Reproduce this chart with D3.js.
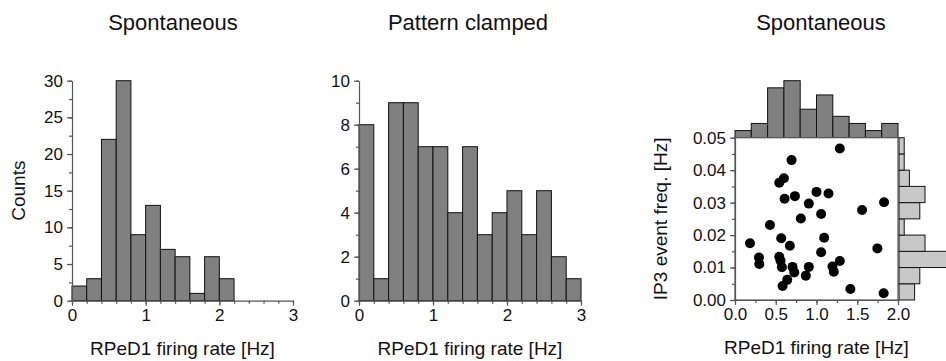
<!DOCTYPE html>
<html>
<head>
<meta charset="utf-8">
<script src="https://cdn.jsdelivr.net/npm/d3@7"></script>
<style>
  body { margin: 0; background: #fff; }
  svg { display: block; font-family: Arial, "Liberation Sans", sans-serif; }
  .axis path, .axis line { stroke: #555; stroke-width: 1.2; }
  .axis text { font-size: 17px; fill: #111; }
</style>
</head>
<body>
<svg id="chart" width="946" height="361"></svg>
<script>
"use strict";

let bin_edges_3hz = [0, 0.2, 0.4, 0.6, 0.8, 1.0, 1.2, 1.4, 1.6, 1.8, 2.0, 2.2, 2.4, 2.6, 2.8, 3.0];
let spont_counts = [2, 3, 22, 30, 9, 13, 7, 6, 1, 6, 3, 0, 0, 0, 0];
let clamped_counts = [8, 1, 9, 9, 7, 7, 4, 7, 3, 4, 5, 3, 5, 2, 1];

let x_ticks_3 = [0, 1, 2, 3];
let spont_y_ticks = [0, 5, 10, 15, 20, 25, 30];
let clamped_y_ticks = [0, 2, 4, 6, 8, 10];

// scatter: RPeD1 firing rate [Hz] vs IP3 event freq [Hz]
let rate_hz = [1.286, 0.694, 0.543, 0.600, 0.608, 0.735, 1.000, 1.147, 0.906, 1.829, 1.559, 1.057,
    0.808, 0.429, 0.567, 1.094, 0.184, 0.673, 1.747, 0.294, 0.298, 0.543, 0.559, 0.576,
    1.057, 1.286, 1.196, 1.212, 0.706, 0.727, 0.906, 0.869, 0.641, 0.584, 1.416, 1.824];
let ip3_hz = [0.0467, 0.0431, 0.0361, 0.0375, 0.0312, 0.0320, 0.0333, 0.0328, 0.0297, 0.0301, 0.0277, 0.0265,
    0.0251, 0.0231, 0.0190, 0.0192, 0.0175, 0.0167, 0.0159, 0.0131, 0.0111, 0.0133, 0.0121, 0.0101,
    0.0147, 0.0120, 0.0103, 0.0087, 0.0102, 0.0085, 0.0102, 0.0075, 0.0062, 0.0043, 0.0034, 0.0021];

// marginal histograms of the scatter
let rate_edges = [0, 0.2, 0.4, 0.6, 0.8, 1.0, 1.2, 1.4, 1.6, 1.8, 2.0];
let rate_counts = [1, 2, 7, 8, 4, 6, 3, 2, 1, 2];
let ip3_edges = [0, 0.005, 0.01, 0.015, 0.02, 0.025, 0.03, 0.035, 0.04, 0.045, 0.05];
let ip3_counts = [3, 4, 10, 5, 1, 4, 5, 2, 1, 1];

let scatter_x_ticks = [0, 0.5, 1.0, 1.5, 2.0];
let scatter_y_ticks = [0, 0.01, 0.02, 0.03, 0.04, 0.05];

let svg = d3.select("#chart");

function add_text(x, y, size, txt, rotate) {
    let t = svg.append("text").attr("text-anchor", "middle").attr("font-size", size).attr("fill", "#111").text(txt);
    if (rotate) t.attr("transform", "translate(" + x + "," + y + ") rotate(-90)");
    else t.attr("x", x).attr("y", y);
    return t;
}

function draw_hist(left, right, top, bottom, counts, y_max, y_ticks, y_minor) {
    let x = d3.scaleLinear().domain([0, 3]).range([left, right]);
    let y = d3.scaleLinear().domain([0, y_max]).range([bottom, top]);
    let g = svg.append("g");

    g.selectAll("rect.bar").data(counts).join("rect")
        .attr("class", "bar")
        .attr("x", (d, i) => x(bin_edges_3hz[i]))
        .attr("width", (d, i) => x(bin_edges_3hz[i + 1]) - x(bin_edges_3hz[i]))
        .attr("y", d => y(d))
        .attr("height", d => y(0) - y(d))
        .attr("fill", "#808080")
        .attr("stroke", d => d > 0 ? "#111" : "none")
        .attr("stroke-width", 1);

    // minor ticks first, then the real axes on top
    g.append("g").attr("class", "axis").attr("transform", "translate(0," + bottom + ")")
        .call(d3.axisBottom(x).tickValues(d3.range(0, 3.001, 0.2)).tickSize(3).tickFormat(""))
        .call(a => a.select(".domain").remove());
    g.append("g").attr("class", "axis").attr("transform", "translate(" + left + ",0)")
        .call(d3.axisLeft(y).tickValues(d3.range(0, y_max + 0.001, y_minor)).tickSize(3).tickFormat(""))
        .call(a => a.select(".domain").remove());

    g.append("g").attr("class", "axis").attr("transform", "translate(0," + bottom + ")")
        .call(d3.axisBottom(x).tickValues(x_ticks_3).tickSize(5).tickSizeOuter(0).tickPadding(3).tickFormat(d3.format("d")));
    g.append("g").attr("class", "axis").attr("transform", "translate(" + left + ",0)")
        .call(d3.axisLeft(y).tickValues(y_ticks).tickSize(5).tickSizeOuter(0).tickPadding(4).tickFormat(d3.format("d")));

    add_text((left + right) / 2, bottom + 54, 19, "RPeD1 firing rate [Hz]");
}

draw_hist(72, 293, 80.7, 300.7, spont_counts, 30, spont_y_ticks, 2.5);
draw_hist(359, 581, 80.7, 300.7, clamped_counts, 10, clamped_y_ticks, 1);

add_text(173, 30, 22, "Spontaneous");
add_text(468, 30, 22, "Pattern clamped");
add_text(25, 190.7, 19, "Counts", true);

// scatter with marginal histograms
let sl = 735, sr = 898, st = 137.7, sb = 300;
let sx = d3.scaleLinear().domain([0, 2]).range([sl, sr]);
let sy = d3.scaleLinear().domain([0, 0.05]).range([sb, st]);
let top_h = d3.scaleLinear().domain([0, 8]).range([st, 80.7]);
let right_w = d3.scaleLinear().domain([0, 10]).range([sr + 1, sr + 53]);

let sg = svg.append("g");

sg.selectAll("rect.top").data(rate_counts).join("rect")
    .attr("class", "top")
    .attr("x", (d, i) => sx(rate_edges[i]))
    .attr("width", (d, i) => sx(rate_edges[i + 1]) - sx(rate_edges[i]))
    .attr("y", d => top_h(d))
    .attr("height", d => st - top_h(d))
    .attr("fill", "#808080").attr("stroke", "#111");

sg.selectAll("rect.side").data(ip3_counts).join("rect")
    .attr("class", "side")
    .attr("x", right_w(0))
    .attr("y", (d, i) => sy(ip3_edges[i + 1]))
    .attr("height", (d, i) => sy(ip3_edges[i]) - sy(ip3_edges[i + 1]))
    .attr("width", d => right_w(d) - right_w(0))
    .attr("fill", "#c8c8c8").attr("stroke", "#111");

sg.append("rect").attr("x", sl).attr("y", st).attr("width", sr - sl).attr("height", sb - st)
    .attr("fill", "#fff").attr("stroke", "#555").attr("stroke-width", 1.2);

sg.selectAll("circle").data(rate_hz).join("circle")
    .attr("cx", d => sx(d))
    .attr("cy", (d, i) => sy(ip3_hz[i]))
    .attr("r", 5)
    .attr("fill", "#000");

sg.append("g").attr("class", "axis").attr("transform", "translate(0," + sb + ")")
    .call(d3.axisBottom(sx).tickValues(d3.range(0, 2.001, 0.25)).tickSize(3).tickFormat(""))
    .call(a => a.select(".domain").remove());
sg.append("g").attr("class", "axis").attr("transform", "translate(" + sl + ",0)")
    .call(d3.axisLeft(sy).tickValues(d3.range(0, 0.0501, 0.005)).tickSize(3).tickFormat(""))
    .call(a => a.select(".domain").remove());
sg.append("g").attr("class", "axis").attr("transform", "translate(0," + sb + ")")
    .call(d3.axisBottom(sx).tickValues(scatter_x_ticks).tickSize(5).tickSizeOuter(0).tickPadding(3).tickFormat(d3.format(".1f")));
sg.append("g").attr("class", "axis").attr("transform", "translate(" + sl + ",0)")
    .call(d3.axisLeft(sy).tickValues(scatter_y_ticks).tickSize(5).tickSizeOuter(0).tickPadding(4).tickFormat(d3.format(".2f")));

add_text(821, 30, 22, "Spontaneous");
add_text((sl + sr) / 2, sb + 54, 19, "RPeD1 firing rate [Hz]");
add_text(667, (st + sb) / 2, 19, "IP3 event freq. [Hz]", true);
</script>
</body>
</html>
